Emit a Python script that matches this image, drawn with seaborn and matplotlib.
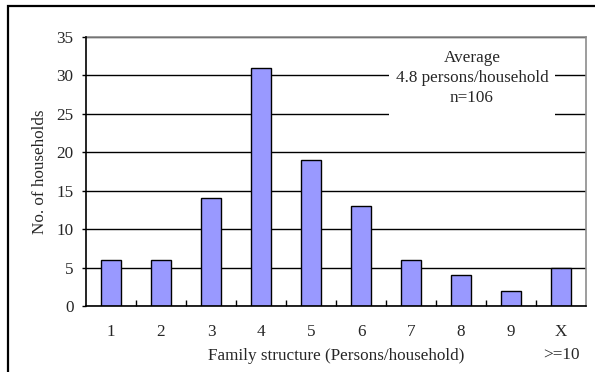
import matplotlib
matplotlib.use("Agg")
import matplotlib.pyplot as plt
from matplotlib.patches import Rectangle
from matplotlib.ticker import FixedLocator
import seaborn as sns
import pandas as pd

# Household size distribution
categories = ["1", "2", "3", "4", "5", "6", "7", "8", "9", "X"]
households = [6, 6, 14, 31, 19, 13, 6, 4, 2, 5]
y_ticks = [0, 5, 10, 15, 20, 25, 30, 35]
average_size = 4.8

FS = 12.3

sns.set_theme(style="white")
plt.rcParams["font.family"] = ["Liberation Serif", "DejaVu Serif"]
plt.rcParams["font.size"] = FS

df = pd.DataFrame({"size": categories, "count": households})

fig = plt.figure(figsize=(5.95, 3.72), dpi=100)
ax = fig.add_axes([86 / 595, 1 - 306 / 372, 500 / 595, 269 / 372])

# outer chart frame (runs off the right and bottom edges)
fig.patches.append(Rectangle((8 / 595, -0.05), 1.0, (1 - 6 / 372) + 0.05,
                             transform=fig.transFigure, fill=False,
                             edgecolor="black", linewidth=1.6, zorder=0))

sns.barplot(data=df, x="size", y="count", color="#9999FF", edgecolor="black",
            linewidth=1.0, width=0.4, saturation=1, ax=ax, zorder=3)

ax.set_xlim(-0.5, len(categories) - 0.5)
ax.set_ylim(0, 35)
ax.set_yticks(y_ticks)
ax.yaxis.grid(True, color="black", linewidth=1.0)
ax.set_axisbelow(True)
for b in ax.patches:
    b.set_zorder(3)

ax.spines["left"].set_color("black")
ax.spines["bottom"].set_color("black")
ax.spines["top"].set_color("#8c8c8c")
ax.spines["right"].set_color("#8c8c8c")
for s in ax.spines.values():
    s.set_linewidth(1.2)
ax.spines["left"].set_zorder(4)
ax.spines["bottom"].set_zorder(4)

ax.tick_params(axis="y", which="major", direction="out", length=3, width=1,
               color="black", left=True, pad=6, labelsize=FS)
ax.tick_params(axis="x", which="major", length=0, pad=13, labelsize=FS)
ax.xaxis.set_minor_locator(FixedLocator([i + 0.5 for i in range(len(categories) - 1)]))
ax.tick_params(axis="x", which="minor", direction="in", length=4, width=1,
               color="black", bottom=True)

ax.set_xlabel("Family structure (Persons/household)", fontsize=FS, labelpad=6)
ax.set_ylabel("No. of households", fontsize=FS, labelpad=6)

ax.text(len(categories) - 1, -0.183, ">=10", transform=ax.get_xaxis_transform(),
        ha="center", va="center", fontsize=FS)

# summary box that masks the grid lines behind it
fig.patches.append(Rectangle((389 / 595, 1 - 122 / 372), 166 / 595, 76 / 372,
                             transform=fig.transFigure, facecolor="white",
                             edgecolor="none", zorder=5))
summary = f"Average\n{average_size} persons/household\nn={sum(households)}"
fig.text(472 / 595, 1 - 78 / 372, summary, ha="center", va="center",
         fontsize=FS, linespacing=1.35, zorder=6)

fig.savefig("out.png", dpi=100)
